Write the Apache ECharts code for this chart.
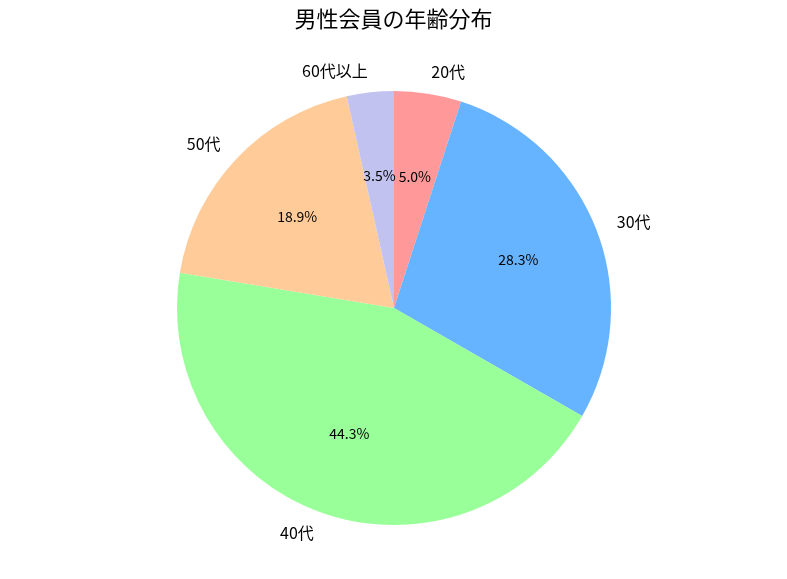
<!DOCTYPE html>
<html><head><meta charset="utf-8">
<script src="https://cdn.jsdelivr.net/npm/echarts@6/dist/echarts.min.js"></script>
<style>html,body{margin:0;padding:0;background:#fff}#c{width:787px;height:579px}</style>
</head><body><div id="c"></div>
<script>
const categories = ['20代', '30代', '40代', '50代', '60代以上'];
const values = [5.0, 28.3, 44.3, 18.9, 3.5];
const colors = ['#ff9999', '#66b3ff', '#99ff99', '#ffcc99', '#c2c2f0'];
const titleText = '男性会員の年齢分布';

const R = 217;
const CX = 394, CY = 308;
const FONT = '"Noto Sans CJK JP", "Noto Sans", sans-serif';
const data = categories.map((c, i) => ({ name: c, value: values[i], itemStyle: { color: colors[i] } }));
const ghost = categories.map((c, i) => ({ name: c, value: values[i], itemStyle: { color: 'rgba(0,0,0,0)' } }));

const chart = echarts.init(document.getElementById('c'));
chart.setOption({
  animation: false,
  backgroundColor: '#fff',
  title: {
    text: titleText, left: 'center', top: 8, padding: 0,
    textStyle: { fontFamily: FONT, fontSize: 22, fontWeight: 'normal', color: '#000' }
  },
  series: [
    {
      type: 'pie', center: [CX, CY], radius: [0, R], startAngle: 90, clockwise: true,
      avoidLabelOverlap: false, silent: true, data: data,
      label: { show: true, position: 'outside', formatter: '{b}', fontFamily: FONT, fontSize: 16, color: '#000', distanceToLabelLine: 0, padding: [0, 0, 3, 0] },
      labelLine: { show: false, length: R * 0.1, length2: 0 },
      emphasis: { disabled: true }
    },
    {
      type: 'pie', center: [CX, CY], radius: [0, R * 1.2], startAngle: 90, clockwise: true,
      avoidLabelOverlap: false, silent: true, data: ghost,
      label: { show: true, position: 'inside', formatter: p => p.value.toFixed(1) + '%', fontFamily: FONT, fontSize: 14, color: '#000' },
      labelLine: { show: false },
      emphasis: { disabled: true }
    }
  ]
});
</script></body></html>
